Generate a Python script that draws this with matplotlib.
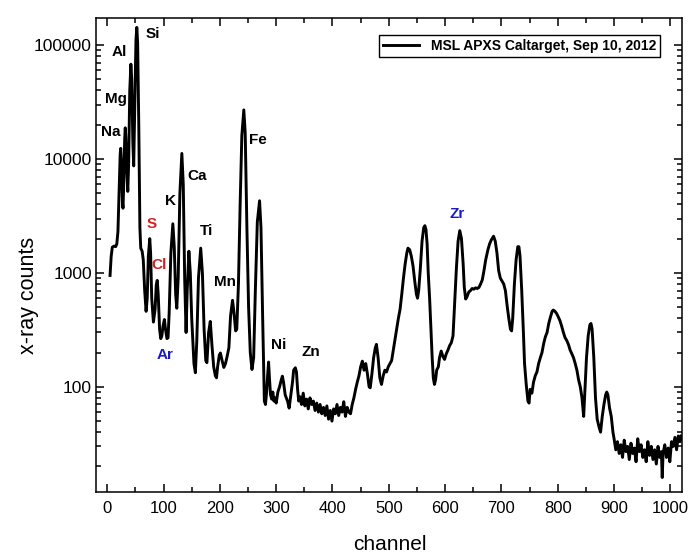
import matplotlib
matplotlib.use("Agg")
import matplotlib.pyplot as plt
from matplotlib.ticker import MultipleLocator, LogLocator, NullFormatter, FixedLocator

plt.rcParams["font.family"] = ["Liberation Sans", "DejaVu Sans"]

# spectrum (channel, counts)
channel = [
    5, 7, 9, 12, 15, 17, 19, 21, 23, 24, 25, 27, 28, 29.5, 31, 32, 33, 35, 36.5, 38,
    40, 42, 43.5, 45.5, 47, 49, 51, 52.5, 54, 56, 58, 59.5, 62, 64, 66.5, 69, 71, 73, 75.5, 77,
    79, 82, 85, 87, 88.8, 90.5, 93, 95, 97, 99, 101.5, 103.5, 106, 108, 110, 113, 116.5, 119, 121.5, 123.5,
    126, 129, 132.5, 135, 137.5, 140, 142, 145, 147.5, 150, 154, 156.5, 159, 162, 166, 169, 172, 175, 177, 180,
    183, 186, 189, 192, 194, 196, 199, 201, 204, 207, 210, 213, 216, 219, 222.5, 225, 228, 230, 233, 236,
    239, 242.5, 245, 248, 251, 254, 257, 260, 263, 266.5, 270.5, 273, 276, 279, 281, 283, 285, 286.5, 288, 290,
    292, 294, 296, 298, 300, 303, 306, 309, 311, 313, 316, 318, 320.5, 323, 326, 329, 331, 334, 336, 338,
    340, 342, 345, 348, 351, 354, 357, 360, 363, 366, 369, 372, 375, 378, 381, 384, 387, 390, 393, 396,
    399, 402, 405, 408, 411, 414, 417, 420, 423, 426, 429, 432, 435, 438, 441, 444, 447, 450, 453, 456,
    459, 462, 465, 467, 470, 473, 476, 478, 481, 484, 487, 490, 493, 496, 499, 502, 505, 508, 511, 514,
    517, 520, 523, 526, 529, 532, 534, 537, 540, 543, 546, 549, 551, 553, 556, 559, 562, 564, 566, 568,
    570, 572.5, 575, 577, 579, 581, 583, 585, 588, 590, 593, 596, 599, 602, 605, 608, 611, 614, 617, 620,
    623, 626, 629, 632, 634, 636.5, 639, 642, 645, 648, 651, 654, 657, 660, 663, 666, 669, 672, 676, 679,
    682, 686, 689, 692, 695, 698, 701, 704, 707, 710, 713, 716, 718, 720, 723, 726, 729, 731, 733, 736,
    739, 741, 744, 747, 749, 751, 754, 757, 760, 763, 766, 769, 772, 775, 778, 781, 784, 787, 790, 792,
    795, 798, 801, 804, 807, 810, 813, 816, 819, 822, 825, 828, 831, 834, 837, 840, 843, 846, 848, 851,
    854, 857, 859, 861, 864, 867, 870, 873, 876, 879, 882, 885, 887, 889, 892, 895, 898, 900, 903, 906,
    909, 912, 915, 918, 921, 924, 927, 930, 933, 936, 939, 942, 945, 948, 951, 954, 957, 960, 963, 966,
    969, 972, 975, 978, 981, 984, 985.5, 987, 990, 993, 996, 999, 1002, 1005, 1008, 1011, 1014, 1017, 1019,
]
counts = [
    950, 1400, 1680, 1720, 1700, 1800, 2300, 5000, 11000, 12400, 10000, 4200, 3700, 6500, 15000, 18800, 15500, 7500, 5200, 9000,
    40000, 68000, 50000, 14000, 8700, 30000, 110000, 143000, 105000, 20000, 2500, 1650, 1550, 1300, 700, 460, 600, 1400, 2000, 1500,
    600, 370, 480, 780, 860, 650, 320, 265, 280, 340, 390, 320, 265, 270, 450, 1500, 2700, 1700, 650, 490,
    900, 5000, 11200, 6000, 900, 300, 700, 1550, 1000, 400, 160, 133, 250, 900, 1650, 1000, 320, 170, 163, 300,
    375, 230, 150, 125, 120, 150, 190, 198, 170, 148, 160, 186, 220, 420, 575, 450, 310, 320, 800, 4000,
    16000, 27000, 17000, 2500, 500, 200, 142, 180, 700, 2800, 4300, 2500, 400, 75, 70, 90, 130, 165, 120, 85,
    78, 90, 75, 80, 72, 90, 100, 115, 124, 110, 85, 80, 74, 65, 85, 110, 140, 147, 135, 95,
    75, 82, 70, 88, 68, 78, 64, 80, 70, 75, 62, 72, 60, 70, 58, 66, 56, 68, 52, 62,
    50, 64, 58, 70, 56, 66, 60, 74, 55, 66, 60, 58, 70, 80, 95, 110, 125, 150, 168, 140,
    160, 130, 100, 98, 130, 180, 220, 236, 180, 120, 105, 125, 140, 135, 150, 160, 170, 210, 260, 320,
    400, 480, 650, 900, 1200, 1500, 1650, 1600, 1400, 1150, 850, 650, 600, 700, 1100, 1900, 2500, 2600, 2400, 1800,
    1000, 590, 300, 180, 120, 105, 115, 140, 150, 180, 206, 185, 174, 195, 210, 230, 244, 280, 550, 1100,
    1900, 2350, 2000, 1200, 750, 590, 620, 680, 700, 730, 720, 740, 730, 745, 800, 870, 1050, 1300, 1600, 1800,
    1950, 2100, 1900, 1500, 1050, 900, 850, 800, 700, 520, 400, 320, 310, 400, 800, 1300, 1700, 1700, 1400, 700,
    300, 160, 105, 75, 72, 95, 88, 110, 125, 135, 160, 180, 200, 240, 275, 300, 360, 410, 460, 472,
    460, 440, 410, 380, 340, 300, 270, 255, 235, 210, 195, 180, 160, 140, 115, 100, 80, 55, 90, 180,
    280, 350, 360, 320, 180, 80, 52, 45, 40, 55, 70, 85, 90, 85, 65, 55, 40, 35, 28, 33,
    26, 31, 24, 34, 27, 30, 23, 32, 26, 29, 22, 35, 27, 31, 24, 28, 22, 33, 25, 30,
    23, 28, 21, 30, 24, 27, 16, 26, 31, 24, 29, 22, 33, 30, 36, 28, 37, 33, 37,
]

# element labels
elements = ["Si", "Al", "Mg", "Na", "Fe", "Ca", "K", "S", "Ti", "Cl", "Mn", "Ar", "Ni", "Zn", "Zr"]
label_colors = ["black", "black", "black", "black", "black", "black", "black", "#d42020",
                "black", "#d42020", "black", "#1a1ac8", "black", "black", "#1a1ac8"]
label_ch = [80.5, 22, 14.7, 5.9, 267, 160.4, 112.4, 78.7, 176.4, 92.9, 210, 101.8, 304, 361, 622]
label_cnt = [125000, 87100, 33700, 17300, 14700, 7080, 4270, 2670, 2320, 1170, 826, 192, 231, 204, 3270]

fig = plt.figure(figsize=(7, 5.58), dpi=100)
ax = fig.add_axes([0.1371, 0.1188, 0.8367, 0.8484])

ax.plot(channel, counts, color="black", lw=2.1, solid_joinstyle="round",
        label="MSL APXS Caltarget, Sep 10, 2012")

for name, c, x, y in zip(elements, label_colors, label_ch, label_cnt):
    ax.text(x, y, name, color=c, fontsize=11, fontweight="bold",
            ha="center", va="center")

ax.set_yscale("log")
ax.set_xlim(-20, 1020)
ax.set_ylim(12, 172000)

ax.xaxis.set_major_locator(MultipleLocator(100))
ax.xaxis.set_minor_locator(MultipleLocator(50))
ax.yaxis.set_major_locator(FixedLocator([100, 1000, 10000, 100000]))
ax.yaxis.set_minor_locator(LogLocator(base=10, subs=range(2, 10)))
ax.yaxis.set_minor_formatter(NullFormatter())
ax.set_yticklabels(["100", "1000", "10000", "100000"])

ax.tick_params(which="both", direction="in", top=True, right=True, width=1.1)
ax.tick_params(which="major", length=6)
ax.tick_params(which="minor", length=3.5)
ax.tick_params(axis="x", labelsize=12, pad=7)
ax.tick_params(axis="y", labelsize=12.5, pad=3)
for s in ax.spines.values():
    s.set_linewidth(1.1)

ax.set_xlabel("channel", fontsize=15)
ax.set_ylabel("x-ray counts", fontsize=15.5)
ax.xaxis.set_label_coords(0.502, -0.091)
ax.yaxis.set_label_coords(-0.097, 0.415)

leg = ax.legend(loc="upper right", bbox_to_anchor=(0.963, 0.965),
                fancybox=False, framealpha=1, edgecolor="black",
                prop={"weight": "bold", "size": 10}, handlelength=2.6,
                borderpad=0.3, borderaxespad=0)
leg.get_frame().set_linewidth(1.0)

fig.savefig("out.png", dpi=100)
